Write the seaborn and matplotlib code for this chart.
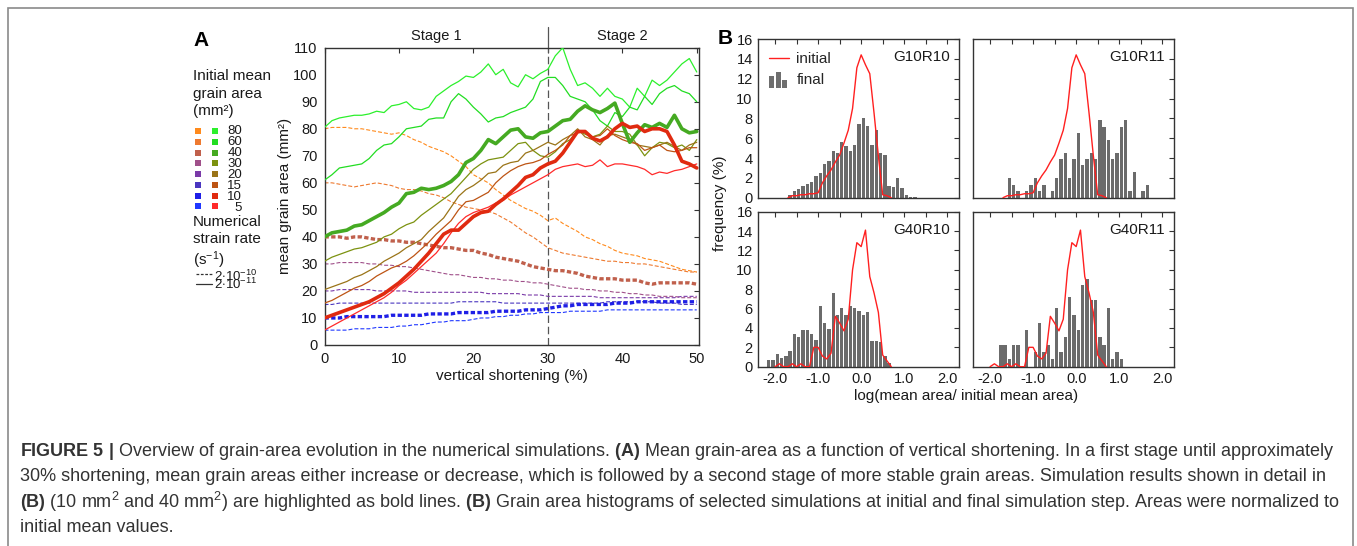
import numpy as np
import pandas as pd
import matplotlib
matplotlib.use("Agg")
import matplotlib.pyplot as plt
import seaborn as sns
from matplotlib.patches import Rectangle
from matplotlib.legend_handler import HandlerBase
from matplotlib.lines import Line2D

sns.set_theme(style="white")
plt.rcParams['font.family'] = ['Liberation Sans', 'DejaVu Sans']
plt.rcParams['mathtext.fontset'] = 'custom'
plt.rcParams['mathtext.rm'] = 'Liberation Sans'
plt.rcParams['mathtext.bf'] = 'Liberation Sans:bold'
plt.rcParams['mathtext.it'] = 'Liberation Sans:italic'

# ---------------- DATA : panel A ----------------
shortening = list(range(0, 51))
initial_sizes = [80, 60, 40, 30, 20, 15, 10, 5]

dashed_80 = [80, 80.5, 80.5, 80.5, 80, 80, 79.5, 79, 78.5, 78, 78.5, 77.5, 76, 75, 73.5, 72.5, 71.5, 70, 68, 66,
             63, 61.5, 60, 57.5, 55.5, 53.5, 52, 50.5, 49.5, 48, 46, 47, 45, 43.5, 42, 40, 39, 37.5, 36.5, 35,
             34, 33.5, 33, 32, 31.5, 31, 30, 29, 28, 27.5, 27]
dashed_60 = [60, 60, 59.5, 59, 58.5, 59, 59.5, 60, 59.5, 59, 58, 57.5, 57.5, 57, 56, 55.5, 54.5, 53, 52, 51,
             50.5, 50, 49.5, 48.5, 47, 45.5, 43.5, 41.5, 40, 38, 36, 35, 34, 33.5, 33, 32.5, 32, 31.5, 31, 31,
             30.5, 30.5, 30, 30, 29.5, 29, 28.5, 28, 27.5, 27, 27]
dashed_40 = [40, 40, 40, 39.5, 40, 40, 39.5, 39, 39, 38.5, 38.5, 38, 38, 37.5, 37, 36.5, 36, 36, 35.5, 35,
             35, 34, 33.5, 32.5, 32, 31.5, 31, 30, 29, 28.5, 28, 27.5, 27.5, 27, 26.5, 25.5, 25, 24.5, 24.5, 24.5,
             24, 24, 24, 23, 22.5, 23, 23, 23, 23, 23, 22.5]
dashed_30 = [30, 30, 30.5, 30.5, 30.5, 30.5, 30, 30, 29.5, 29.5, 29, 29, 28.5, 28, 27.5, 27, 26.5, 26, 26, 25.5,
             25, 25, 24.5, 24.5, 24, 24, 23.5, 23.5, 23, 23, 22.5, 22, 21.5, 21, 21, 20.5, 20.5, 20, 20, 19.5,
             19.5, 19, 19, 18.5, 18.5, 18, 18, 18, 17.5, 17.5, 17.5]
dashed_20 = [20, 20, 20.5, 20.5, 20.5, 20.5, 20.5, 20, 20, 20, 20, 20, 19.5, 19.5, 19.5, 19.5, 19.5, 19.5, 19.5, 19.5,
             19.5, 19.5, 19, 19, 19, 19, 19, 18.5, 18.5, 18.5, 18, 18, 18, 18, 18, 18, 18, 17.5, 17.5, 17.5,
             17.5, 17.5, 17.5, 17.5, 17.5, 17.5, 17.5, 17.5, 18, 18, 18]
dashed_15 = [15, 15, 15.5, 15.5, 15.5, 15.5, 15.5, 15.5, 15.5, 15.5, 15.5, 15.5, 15.5, 15.5, 15.5, 15.5, 15.5, 15.5, 16, 16,
             16, 16, 16, 16, 15.5, 15.5, 15.5, 15.5, 15.5, 15.5, 15.5, 15.5, 15.5, 15.5, 15.5, 15.5, 15.5, 15.5, 16, 16,
             16, 16, 16, 16, 16, 15.5, 15.5, 15.5, 15, 15, 15]
dashed_10 = [10, 10, 10, 10.5, 10.5, 10.5, 10.5, 10.5, 10.5, 11, 11, 11, 11, 11, 11.5, 11.5, 11.5, 11.5, 12, 12,
             12, 12, 12, 12.5, 12.5, 12.5, 12.5, 13, 13, 13, 13.5, 14, 14.5, 14.5, 15, 15, 15, 15, 15, 15.5,
             15.5, 15.5, 16, 16, 16, 16, 16, 16, 16, 16, 16]
dashed_5 = [5.5, 5.5, 5.5, 5.5, 6, 6, 6, 6.5, 6.5, 6.5, 7, 7, 7.5, 7.5, 8, 8.5, 8.5, 9, 9, 9,
            9.5, 10, 10, 10.5, 10.5, 11, 11, 11.5, 11.5, 12, 12, 12, 12, 12.5, 12.5, 12.5, 12.5, 12.5, 13, 13,
            13, 13, 13, 13, 13, 13, 13, 13, 13, 13, 13]

solid_80 = [80.5, 83, 84, 84.5, 85, 85, 85.5, 86.5, 86, 88.5, 89, 90, 87.5, 87, 88, 92, 94, 96, 97.5, 99.5,
            99, 101, 104, 100, 102, 97, 95.5, 100, 98.5, 100.5, 102, 107, 110, 102, 96, 97, 95, 92, 95, 92,
            91, 88, 95, 92, 98, 96, 98, 101, 104, 106, 101]
solid_60 = [61, 63, 65.5, 66, 66.5, 67, 69, 72, 74, 74.5, 77, 80, 80.5, 81, 83.5, 84, 84, 90, 93, 91,
            88, 85.5, 82.5, 84, 84.5, 86, 87, 88, 91, 97.5, 99, 99, 96, 92, 91, 90, 87, 83, 81, 86,
            84.5, 88, 87, 92, 89, 93, 95, 96, 94, 93, 90]
solid_40 = [40, 41.5, 42, 42.5, 44, 44.5, 46, 47.5, 49, 51, 52.5, 56, 56.5, 58, 57.5, 58, 59, 60.5, 63, 67.5,
            69, 72, 76, 74.5, 77, 79.5, 80, 77, 76.5, 78.5, 79, 81, 83, 83.5, 86.5, 88.5, 87, 86, 87.5, 89.5,
            82, 75, 78.5, 81.5, 80.5, 82, 80.5, 85, 80, 78.5, 79]
solid_30 = [31, 32.5, 33.5, 34.5, 35.5, 36, 37, 38, 40, 41, 43, 44.5, 45.5, 48, 50, 52, 54, 56, 59, 62,
            65, 67, 68.5, 69, 69.5, 72, 74.5, 75, 72, 70, 69.5, 71.5, 74.5, 76, 79.5, 78, 77, 78, 81, 79,
            79, 78, 74, 70, 73, 75, 74.5, 73, 74, 72, 76]
solid_20 = [20.5, 21.5, 22.5, 23.5, 25, 26, 27.5, 29, 31, 32.5, 34, 36, 37.5, 39, 42, 44.5, 47, 51, 55, 57.5,
            59, 61, 63.5, 64, 66.5, 67.5, 68, 71, 72, 73.5, 75, 74, 76, 77.5, 80, 77, 76, 74, 77.5, 78,
            77, 76, 74, 73.5, 73, 74, 75, 73.5, 72, 74, 75]
solid_15 = [15.5, 16.5, 18, 19.5, 21, 22, 23.5, 25.5, 27, 28.5, 29.5, 31, 33, 35.5, 38, 41, 43.5, 46, 50, 53,
            53.5, 55, 56.5, 60, 62.5, 64.5, 66, 67, 67.5, 68.5, 70.5, 72, 74, 77.5, 78.5, 79, 77, 77.5, 80, 77.5,
            76, 75, 74.5, 72, 73, 74, 72, 71.5, 72, 73, 73]
solid_10 = [10, 11, 12, 13, 14, 15, 16, 17.5, 19, 21, 23, 25.5, 28, 31, 34, 37.5, 41, 42.5, 42.5, 45,
            47.5, 49, 49.5, 52, 54, 56.5, 59, 62, 63, 65.5, 67, 68, 71, 75, 79, 79, 76.5, 75.5, 77, 80,
            82, 80.5, 81, 79, 80, 80, 79, 74, 68, 67, 65.5]
solid_5 = [5.5, 7, 8.5, 10, 11.5, 13, 14.5, 16, 17.5, 19.5, 22, 24, 26.5, 29, 31.5, 34, 37.5, 41.5, 45, 47.5,
           49, 50, 51, 52.5, 53.5, 55.5, 57, 58.5, 60, 61.5, 63, 65, 66, 66.5, 67, 66, 66.5, 68.5, 66, 67,
           67, 66.5, 66, 65, 63, 64, 63.5, 64.5, 65, 66, 67]

dashed_series = [dashed_80, dashed_60, dashed_40, dashed_30, dashed_20, dashed_15, dashed_10, dashed_5]
solid_series = [solid_80, solid_60, solid_40, solid_30, solid_20, solid_15, solid_10, solid_5]

# ---------------- DATA : panel B ----------------
g10r10_centers = [round(-1.65 + 0.1 * k, 2) for k in range(30)]
g10r10_final = [0.27, 0.7, 0.9, 1.2, 1.35, 1.6, 2.2, 2.5, 3.4, 3.7, 4.7, 4.5, 5.6, 5.2, 4.7, 5.3, 7.4, 8.0, 7.2, 5.3,
                6.8, 4.5, 4.3, 1.2, 1.1, 2.0, 1.0, 0.3, 0.1, 0.1]
g10r11_centers = [round(-1.55 + 0.1 * k, 2) for k in range(33)]
g10r11_final = [1.95, 1.3, 0.65, 0, 0.65, 1.3, 1.95, 0.65, 1.3, 0, 0.65, 1.95, 3.9, 4.55, 1.95, 3.9, 6.5, 3.25, 3.9, 4.55,
                3.9, 7.8, 7.15, 5.85, 3.9, 4.55, 7.15, 7.8, 0.65, 2.6, 0, 0.65, 1.3]
g40r10_centers = [round(-2.15 + 0.1 * k, 2) for k in range(29)]
g40r10_final = [0.7, 0.7, 1.3, 0.9, 1.1, 1.6, 3.4, 3.1, 3.8, 3.8, 3.4, 2.8, 6.3, 4.5, 3.9, 7.6, 5.3, 6.1, 5.3, 6.3,
                6.1, 5.8, 5.3, 5.6, 2.7, 2.7, 2.6, 1.1, 0.4]
g40r11_centers = [round(-1.75 + 0.1 * k, 2) for k in range(29)]
g40r11_final = [2.28, 2.28, 0.76, 2.28, 2.28, 0, 3.8, 0, 1.52, 4.56, 1.52, 2.28, 0.76, 6.1, 1.52, 3.04, 7.2, 5.3, 3.8, 8.4,
                9.1, 6.85, 6.85, 3.04, 2.28, 6.1, 0.76, 1.52, 0.76]

g10_init_x = [-1.7, -1.6, -1.5, -1.4, -1.3, -1.2, -1.1, -1.0, -0.9, -0.8, -0.7, -0.6, -0.5, -0.4, -0.3, -0.2, -0.1,
              0.0, 0.1, 0.2, 0.3, 0.4, 0.5, 0.6, 0.7]
g10_init_y = [0, 0.2, 0.2, 0.3, 0.3, 0.4, 0.4, 0.5, 1.5, 2.2, 2.8, 3.6, 4.3, 5.5, 6.8, 9.0, 13.1,
              14.4, 13.4, 12.5, 8.5, 4.2, 0.3, 0.2, 0]
g40_init_x = [-2.0, -1.9, -1.8, -1.7, -1.6, -1.5, -1.4, -1.3, -1.2, -1.1, -1.0, -0.9, -0.8, -0.7, -0.6, -0.5, -0.4,
              -0.3, -0.2, -0.1, 0.0, 0.1, 0.2, 0.3, 0.4, 0.5, 0.6, 0.7]
g40_init_y = [0, 0.3, 0, 0, 0.3, 0, 0.3, 0, 0, 2.0, 2.0, 1.1, 0.8, 1.4, 5.2, 4.5, 3.7,
              4.9, 10.0, 12.8, 12.4, 14.1, 9.3, 7.6, 5.6, 1.2, 0.6, 0]

hist_panels = [
    ("G10R10", g10r10_centers, g10r10_final, g10_init_x, g10_init_y),
    ("G10R11", g10r11_centers, g10r11_final, g10_init_x, g10_init_y),
    ("G40R10", g40r10_centers, g40r10_final, g40_init_x, g40_init_y),
    ("G40R11", g40r11_centers, g40r11_final, g40_init_x, g40_init_y),
]

# ---------------- STYLE ----------------
W, H = 1357, 546
fig = plt.figure(figsize=(W / 100, H / 100), dpi=100)
fig.patch.set_facecolor('white')

def fx(px):
    return px / W

def fy(py):
    return 1 - py / H

def axes_px(left, top, right, bottom):
    return [fx(left), fy(bottom), (right - left) / W, (bottom - top) / H]

dashed_colors = ['#ff8a1c', '#ee7a30', '#c0604c', '#a0508a', '#7a3aa8', '#4a36c0', '#1f1fe6', '#2038ff']
solid_colors = ['#2cf02c', '#22dd22', '#45aa22', '#7c9210', '#9a7418', '#bd5414', '#e02a10', '#ff2a2a']
bold_sizes = [40, 10]
spine_col = '#333333'
txt_col = '#1a1a1a'

# ---------------- PANEL A ----------------
axA = fig.add_axes(axes_px(324.5, 47.7, 699, 345))
for vals, size, col in zip(dashed_series, initial_sizes, dashed_colors):
    bold = size in bold_sizes
    df = pd.DataFrame({"x": shortening, "y": vals})
    sns.lineplot(data=df, x="x", y="y", ax=axA, color=col,
                 lw=2.4 if bold else 0.8,
                 linestyle=(0, (1.3, 0.7)) if bold else (0, (3.6, 1.8)),
                 zorder=3 if bold else 2)
for vals, size, col in zip(solid_series, initial_sizes, solid_colors):
    bold = size in bold_sizes
    df = pd.DataFrame({"x": shortening, "y": vals})
    sns.lineplot(data=df, x="x", y="y", ax=axA, color=col,
                 lw=2.6 if bold else 0.9, zorder=4 if bold else 3)

axA.set_xlim(0, 50.3)
axA.set_ylim(0, 110)
axA.set_xticks(range(0, 51, 10))
axA.set_yticks(range(0, 111, 10))
axA.tick_params(direction='in', top=True, right=True, length=3.5, width=0.8,
                colors=spine_col, labelcolor=txt_col, labelsize=10.5, pad=5)
for s in axA.spines.values():
    s.set_color(spine_col)
    s.set_linewidth(1.0)
axA.set_xlabel("vertical shortening (%)", fontsize=11, color=txt_col)
axA.set_ylabel("mean grain area (mm²)", fontsize=11, color=txt_col)
axA.xaxis.set_label_coords(0.5, -0.081)
axA.yaxis.set_label_coords(-0.0855, 0.5)
axA.axvline(30, color='#555555', lw=0.9, linestyle=(0, (6, 3)), zorder=1)
axA.plot([30, 30], [110, 117.8], color='#555555', lw=0.9, clip_on=False)
axA.text(15, 114.4, "Stage 1", ha='center', va='center', fontsize=10.5, color=txt_col, clip_on=False)
axA.text(40, 114.4, "Stage 2", ha='center', va='center', fontsize=10.5, color=txt_col, clip_on=False)

# panel A key
fig.text(fx(193), fy(40.5), "A", fontsize=15, fontweight='bold', ha='left', va='center', color='black')
fig.text(fx(193), fy(93.5), "Initial mean\ngrain area\n(mm²)", fontsize=11, ha='left', va='center',
         color=txt_col, linespacing=1.36)
row0, row_step = 131.0, 10.75
for i, size in enumerate(initial_sizes):
    yc = row0 + row_step * i
    for xc, col in ((198.3, dashed_colors[i]), (214.5, solid_colors[i])):
        fig.patches.append(Rectangle((fx(xc - 3), fy(yc + 3)), 6 / W, 6 / H, transform=fig.transFigure,
                                     facecolor=col, edgecolor='none'))
fig.text(fx(242), fy(row0 + row_step * 3.5 + 1.0), "\n".join(str(s) for s in initial_sizes), fontsize=9.5,
         ha='right', va='center', multialignment='right', color=txt_col, linespacing=0.885)
fig.text(fx(193), fy(243), "Numerical\nstrain rate\n" + r"(s$^{-1}$)", fontsize=11, ha='left', va='center',
         color=txt_col, linespacing=1.27)
for yc, ls in ((274, (0, (2.2, 1.3))), (284.3, '-')):
    fig.add_artist(Line2D([fx(196), fx(212)], [fy(yc), fy(yc)], transform=fig.transFigure,
                          color='#333333', lw=0.9, linestyle=ls))
fig.text(fx(214), fy(280.5), r"2$\cdot$10$^{-10}$" + "\n" + r"2$\cdot$10$^{-11}$", fontsize=9.5,
         ha='left', va='center', color=txt_col, linespacing=0.45)

# ---------------- PANEL B ----------------
class BarsHandler(HandlerBase):
    def create_artists(self, legend, orig_handle, xdescent, ydescent, width, height, fontsize, trans):
        rel = [0.75, 1.0, 0.5]
        n = len(rel)
        step = width / n
        arts = []
        for i, r in enumerate(rel):
            arts.append(Rectangle((-xdescent + i * step, -ydescent - height * 0.35), step * 0.75,
                                  height * 1.5 * r, facecolor='#6e6e6e', edgecolor='none', transform=trans))
        return arts

bar_handle = Rectangle((0, 0), 1, 1)

hist_boxes = [
    (758.3, 39, 959.3, 197.7),
    (973.3, 39, 1174.3, 197.7),
    (758.3, 211.7, 959.3, 366.7),
    (973.3, 211.7, 1174.3, 366.7),
]
for idx, ((name, centers, final, ix, iy), box) in enumerate(zip(hist_panels, hist_boxes)):
    ax = fig.add_axes(axes_px(*box))
    edges_lo = min(centers) - 0.05
    edges_hi = max(centers) + 0.05
    sns.histplot(x=centers, weights=final, binwidth=0.1, binrange=(edges_lo, edges_hi),
                 shrink=0.78, color='#6b6b6b', alpha=1.0, edgecolor='none', linewidth=0, ax=ax, zorder=2)
    sns.lineplot(x=ix, y=iy, ax=ax, color='#ff2020', lw=1.0, zorder=3)
    ax.set_xlim(-2.39, 2.28)
    ax.set_ylim(0, 16)
    ax.set_xticks([-2, -1, 0, 1, 2])
    ax.set_xticks(np.arange(-2, 2.01, 0.5), minor=True)
    ax.set_yticks(range(0, 17, 2))
    ax.tick_params(which='both', direction='in', top=True, right=True, length=3.5, width=0.8,
                   colors=spine_col, labelcolor=txt_col, labelsize=10.5, pad=4)
    ax.set_xlabel("")
    ax.set_ylabel("")
    if idx in (0, 1):
        ax.tick_params(labelbottom=False)
    else:
        ax.set_xticklabels(["-2.0", "-1.0", "0.0", "1.0", "2.0"])
    if idx in (1, 3):
        ax.tick_params(labelleft=False)
    for s in ax.spines.values():
        s.set_color(spine_col)
        s.set_linewidth(1.0)
    ax.text(0.955, 0.885, name, transform=ax.transAxes, ha='right', va='center', fontsize=11, color=txt_col)
    if idx == 0:
        h_line = Line2D([], [], color='#ff2020', lw=1.0)
        ax.legend([h_line, bar_handle], ["initial", "final"], handler_map={Rectangle: BarsHandler()},
                  loc='upper left', bbox_to_anchor=(0.0, 0.985), frameon=False, fontsize=11,
                  handlelength=1.3, handletextpad=0.5, labelspacing=0.45, borderaxespad=0.3)

fig.text(fx(725), fy(38.5), "B", fontsize=15, fontweight='bold', ha='center', va='center', color='black')
fig.text(fx(720), fy(203), "frequency (%)", rotation=90, fontsize=11, ha='center', va='center', color=txt_col)
fig.text(fx(966), fy(396), "log(mean area/ initial mean area)", fontsize=11, ha='center', va='center', color=txt_col)

# ---------------- CAPTION ----------------
cap_col = '#333333'
caption_lines = [
    r"$\mathbf{FIGURE\ 5\ |}$ Overview of grain-area evolution in the numerical simulations. $\mathbf{(A)}$ Mean grain-area as a function of vertical shortening. In a first stage until approximately",
    r"30% shortening, mean grain areas either increase or decrease, which is followed by a second stage of more stable grain areas. Simulation results shown in detail in",
    r"$\mathbf{(B)}$ (10 mm$^{2}$ and 40 mm$^{2}$) are highlighted as bold lines. $\mathbf{(B)}$ Grain area histograms of selected simulations at initial and final simulation step. Areas were normalized to",
    r"initial mean values.",
]
for i, line in enumerate(caption_lines):
    fig.text(fx(20), fy(451 + 25.5 * i), line, fontsize=13.0, ha='left', va='center', color=cap_col)

# frame around the whole figure
fig.patches.append(Rectangle((fx(7.5), fy(600)), (1353 - 7.5) / W, (600 - 8) / H, transform=fig.transFigure,
                             facecolor='none', edgecolor='#8a8a8a', lw=1.2))

fig.savefig("out.png", dpi=100)
